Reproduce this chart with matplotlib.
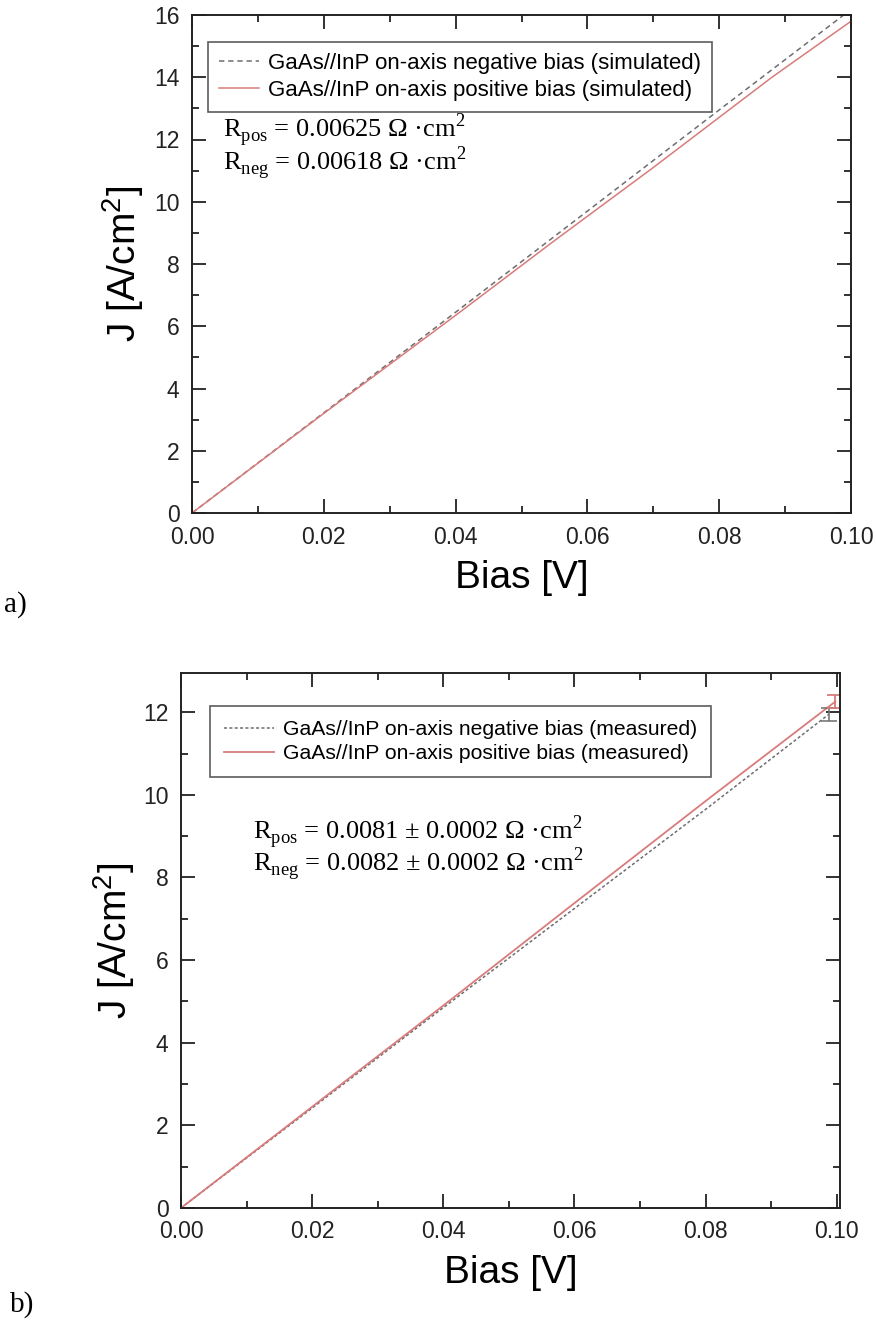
"""J-V curves for GaAs//InP on-axis bonds: simulated (a) and measured (b)."""
import matplotlib

matplotlib.use("Agg")
import matplotlib.pyplot as plt
from matplotlib.ticker import MultipleLocator

plt.rcParams["font.family"] = ["Liberation Sans", "DejaVu Sans"]
plt.rcParams["mathtext.fontset"] = "custom"
plt.rcParams["mathtext.rm"] = "Liberation Serif"
plt.rcParams["mathtext.sf"] = "Liberation Sans"

# --- panel a: simulated ---
sim_bias_neg = [0.0, 0.02, 0.04, 0.06, 0.08, 0.0992]
sim_j_neg = [0.0, 3.22, 6.45, 9.7, 12.95, 16.05]
sim_bias_pos = [0.0, 0.02, 0.04, 0.055, 0.07, 0.088, 0.10]
sim_j_pos = [0.0, 3.2, 6.35, 8.75, 11.1, 14.0, 15.8]

# --- panel b: measured ---
meas_bias_neg = [0.0, 0.02, 0.04, 0.06, 0.08, 0.0988]
meas_j_neg = [0.0, 2.42, 4.85, 7.25, 9.65, 11.95]
meas_err_neg = 0.15
meas_bias_pos = [0.0, 0.02, 0.04, 0.06, 0.08, 0.0998]
meas_j_pos = [0.0, 2.45, 4.9, 7.38, 9.85, 12.26]
meas_err_pos = 0.15

RED = "#d97b7b"
GRAY = "#6e6e6e"

W, H = 876, 1328
fig = plt.figure(figsize=(W / 100, H / 100), dpi=100)


def px_axes(left, top, right, bottom):
    return fig.add_axes([left / W, 1 - bottom / H, (right - left) / W, (bottom - top) / H])


def style(ax, ymajor):
    ax.xaxis.set_major_locator(MultipleLocator(0.02))
    ax.xaxis.set_minor_locator(MultipleLocator(0.01))
    ax.yaxis.set_major_locator(MultipleLocator(ymajor))
    ax.yaxis.set_minor_locator(MultipleLocator(ymajor / 2))
    ax.tick_params(which="both", direction="in", top=True, right=True,
                   labelsize=16.5, width=1.3, colors="#222222")
    ax.tick_params(axis="x", pad=9)
    ax.tick_params(axis="y", pad=9)
    ax.tick_params(which="major", length=10)
    ax.tick_params(which="minor", length=5)
    ax.xaxis.set_major_formatter(plt.FuncFormatter(lambda v, _: f"{v:.2f}"))
    for sp in ax.spines.values():
        sp.set_linewidth(1.4)
        sp.set_color("#222222")


def add_legend(ax, anchor, size, hlen, pad):
    leg = ax.legend(loc="upper left", bbox_to_anchor=anchor, fontsize=size,
                    frameon=True, fancybox=False, edgecolor="#333333",
                    handlelength=hlen, handletextpad=0.4, borderpad=pad,
                    labelspacing=0.25, borderaxespad=0)
    leg.get_frame().set_linewidth(1.2)
    return leg


# panel a
ax1 = px_axes(192, 15, 851, 513)
ax1.plot(sim_bias_neg, sim_j_neg, ls=(0, (3.5, 2.5)), color=GRAY, lw=1.1,
         label="GaAs//InP on-axis negative bias (simulated)")
ax1.plot(sim_bias_pos, sim_j_pos, color=RED, lw=1.1,
         label="GaAs//InP on-axis positive bias (simulated)")
ax1.set_xlim(0, 0.10)
ax1.set_ylim(0, 16)
style(ax1, 2)
ax1.set_xlabel("Bias [V]", fontsize=28, labelpad=8)
ax1.set_ylabel(r"J [A/cm$^{\mathsf{2}}$]", fontsize=28, labelpad=6)
add_legend(ax1, (0.024, 0.946), 16, 1.8, 0.5)
ax1.text(0.047, 0.735,
         "R$_{\\mathrm{pos}}$ = 0.00625 Ω ·cm$^{2}$\nR$_{\\mathrm{neg}}$ = 0.00618 Ω ·cm$^{2}$",
         transform=ax1.transAxes, fontsize=19, family="Liberation Serif",
         va="center", linespacing=0.82)
fig.text(4 / W, 1 - 605 / H, "a)", fontsize=21, family="Liberation Serif", va="center")

# panel b
ax2 = px_axes(181, 673, 840, 1208)
ax2.plot(meas_bias_neg, meas_j_neg, ls=(0, (2, 1.5)), color=GRAY, lw=1.1,
         label="GaAs//InP on-axis negative bias (measured)")
ax2.plot(meas_bias_pos, meas_j_pos, color=RED, lw=1.3,
         label="GaAs//InP on-axis positive bias (measured)")
ax2.errorbar(meas_bias_neg[-1:], meas_j_neg[-1:], yerr=meas_err_neg, fmt="none",
             ecolor=GRAY, elinewidth=1.1, capsize=6, capthick=1.1)
ax2.errorbar(meas_bias_pos[-1:], meas_j_pos[-1:], yerr=meas_err_pos, fmt="none",
             ecolor=RED, elinewidth=1.3, capsize=6, capthick=1.3)
ax2.set_xlim(0, 0.1005)
ax2.set_ylim(0, 12.95)
style(ax2, 2)
ax2.set_xlabel("Bias [V]", fontsize=28, labelpad=8)
ax2.set_ylabel(r"J [A/cm$^{\mathsf{2}}$]", fontsize=28, labelpad=4)
add_legend(ax2, (0.044, 0.938), 15.2, 2.4, 0.65)
ax2.text(0.109, 0.672,
         "R$_{\\mathrm{pos}}$ = 0.0081 ± 0.0002 Ω ·cm$^{2}$\nR$_{\\mathrm{neg}}$ = 0.0082 ± 0.0002 Ω ·cm$^{2}$",
         transform=ax2.transAxes, fontsize=19, family="Liberation Serif",
         va="center", linespacing=0.8)
fig.text(10 / W, 1 - 1305 / H, "b)", fontsize=21, family="Liberation Serif", va="center")

fig.savefig("out.png", dpi=100)
